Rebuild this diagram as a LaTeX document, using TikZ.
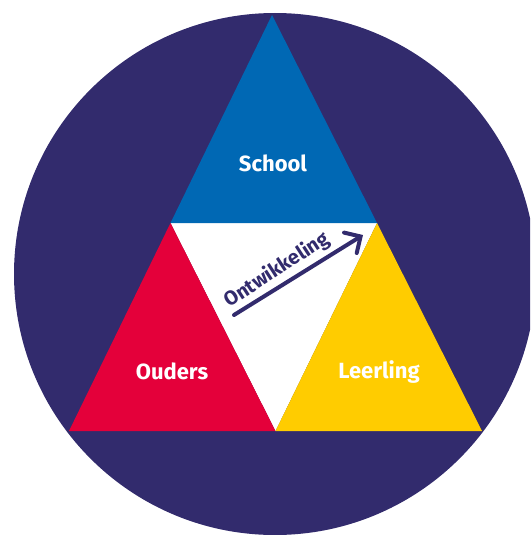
\documentclass[tikz,border=0pt]{standalone}
\usepackage{fontspec}
\setmainfont{Fira Sans}
\usetikzlibrary{arrows.meta}
\definecolor{navy}{HTML}{322B6D}
\definecolor{schoolblue}{HTML}{0068B4}
\definecolor{oudersred}{HTML}{E4003A}
\definecolor{leerlingyellow}{HTML}{FFCC00}
\tikzset{
  label/.style={text=white, font=\fontsize{22}{24}\selectfont\bfseries, inner sep=0pt},
}
\begin{document}
\begin{tikzpicture}[x=1pt,y=-1pt]
\useasboundingbox (0,0) rectangle (530,535);
\clip (0,0) rectangle (530,535);
\fill[navy] (275,274) circle (261pt);
\coordinate (A) at (272,15);
\coordinate (BL) at (69,431);
\coordinate (BR) at (482,431);
\coordinate (ML) at (170.5,223);
\coordinate (MR) at (377,223);
\coordinate (MB) at (275.5,431);
\fill[white] (ML) -- (MR) -- (MB) -- cycle;
\fill[schoolblue] (A) -- (MR) -- (ML) -- cycle;
\fill[oudersred] (ML) -- (MB) -- (BL) -- cycle;
\fill[leerlingyellow] (MR) -- (BR) -- (MB) -- cycle;
\node[label] (school) at (273,163) {School};
\node[label] (ouders) at (172,371) {Ouders};
\node[label] (leerling) at (379,372) {Leerling};
\coordinate (as) at (234,315);
\coordinate (ae) at (363,235);
\draw[navy, line width=4pt, line cap=round, line join=round, -{Straight Barb[length=12pt,width=24pt,line cap=round]}] (as) -- (ae);
\node[text=navy, font=\fontsize{20}{22}\selectfont\bfseries, rotate=33, inner sep=0pt] (ontw) at (277,270) {Ontwikkeling};
\end{tikzpicture}
\end{document}
